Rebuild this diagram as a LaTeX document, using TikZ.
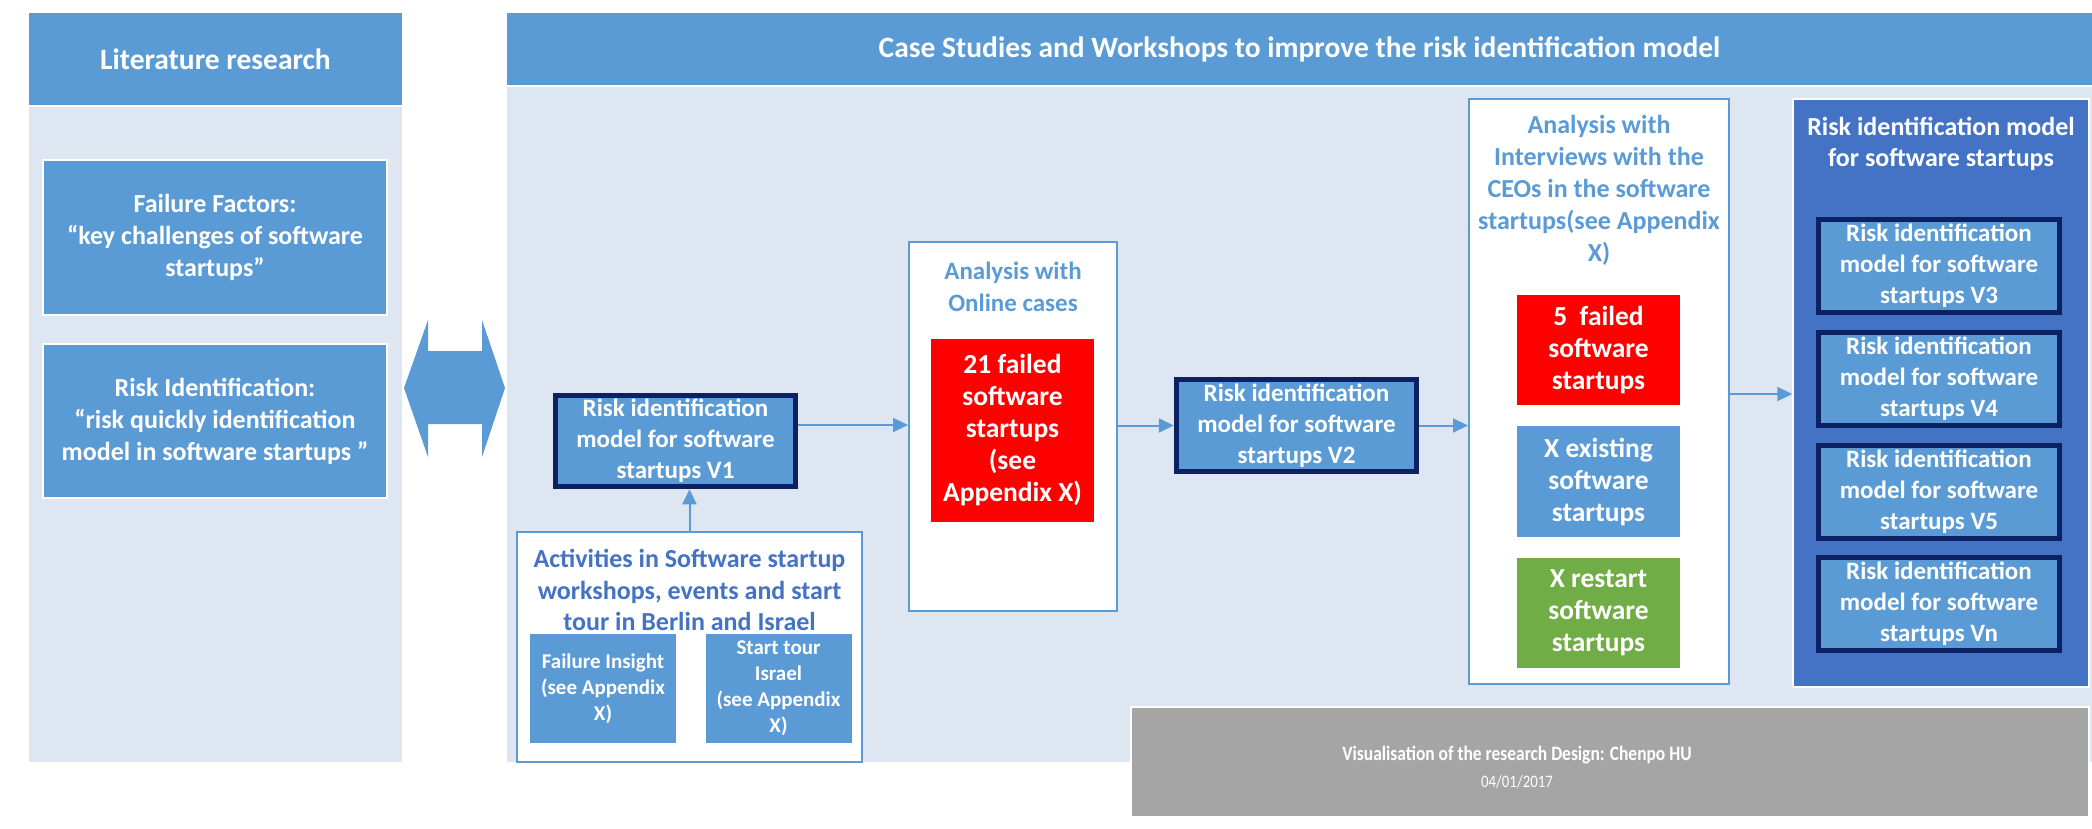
\documentclass[tikz,border=0pt]{standalone}
\usepackage{fontspec}
\setmainfont{Carlito}
\newfontfamily\condfont{Carlito}[FakeStretch=0.85]
\usetikzlibrary{arrows.meta,calc}
\definecolor{cblue}{HTML}{5B9BD5}
\definecolor{clight}{HTML}{DEE6F2}
\definecolor{cnavy}{HTML}{0B2161}
\definecolor{cdark}{HTML}{4472C4}
\definecolor{cred}{HTML}{FF0000}
\definecolor{cgreen}{HTML}{70AD47}
\definecolor{cgray}{HTML}{A5A5A5}
\tikzset{
  hdr/.style={fill=cblue, text=white, font=\fontsize{29.5}{35}\selectfont\bfseries, inner sep=0pt},
  panel/.style={fill=clight, inner sep=0pt},
  lbox/.style={fill=cblue, draw=white, line width=2pt, text=white, font=\fontsize{26}{32}\selectfont\bfseries, align=center, inner sep=0pt},
  vbox/.style={fill=cblue, draw=cnavy, line width=5.5pt, text=white, font=\fontsize{25}{31}\selectfont\bfseries, align=center, inner sep=0pt},
  wbox/.style={fill=white, draw=cblue, line width=2pt, inner sep=0pt},
  cbox/.style={text=white, font=\fontsize{27.5}{32}\selectfont\bfseries, align=center, inner sep=0pt},
  sbox/.style={fill=cblue, text=white, font=\fontsize{21}{26}\selectfont\bfseries, align=center, inner sep=0pt},
  ttl/.style={font=\fontsize{25}{32}\selectfont\bfseries, align=center, inner sep=0pt},
  arr/.style={draw=cblue, line width=2pt, -{Triangle[length=15pt,width=14pt]}},
}
\begin{document}
\begin{tikzpicture}[x=1pt,y=-1pt]
\useasboundingbox (0,0) rectangle (2092,828);
% left column
\node[hdr, minimum width=373pt, minimum height=92pt] (lhead) at (215.5,59) {Literature research};
\node[panel, minimum width=373pt, minimum height=655pt] (lpanel) at (215.5,434.5) {};
\node[lbox, minimum width=344pt, minimum height=155pt] (ff) at (215,237.5)
  {Failure Factors:\\“key challenges of software\\startups”};
\node[lbox, minimum width=344pt, minimum height=154pt] (ri) at (215,421)
  {Risk Identification:\\“risk quickly identification\\model in software startups ”};
% double arrow
\fill[cblue] (404,388) -- (428,320) -- (428,351) -- (482,351) -- (482,320) -- (505,388)
  -- (482,457) -- (482,424) -- (428,424) -- (428,457) -- cycle;
% right column
\node[hdr, minimum width=1585pt, minimum height=72pt] (rhead) at (1299.5,49)
  {Case Studies and Workshops to improve the risk identification model};
\node[panel, minimum width=1585pt, minimum height=675pt] (rpanel) at (1299.5,424.5) {};
% V1 and activities
\node[vbox, minimum width=240pt, minimum height=91pt] (v1) at (675.5,441)
  {Risk identification\\model for software\\startups V1};
\node[wbox, minimum width=345pt, minimum height=230pt] (act) at (689.5,647) {};
\node[ttl, text=cdark, font=\fontsize{26}{31.5}\selectfont\bfseries] (acttitle) at (689.5,590)
  {Activities in Software startup\\workshops, events and start\\tour in Berlin and Israel};
\node[sbox, minimum width=146pt, minimum height=109pt] (fi) at (603,688.5)
  {Failure Insight\\(see Appendix\\X)};
\node[sbox, minimum width=146pt, minimum height=109pt] (st) at (778.5,688.5)
  {Start tour\\Israel\\(see Appendix\\X)};
% online cases
\node[wbox, minimum width=208pt, minimum height=369pt] (online) at (1013,426.5) {};
\node[ttl, text=cblue] (onlinetitle) at (1013,287) {Analysis with\\Online cases};
\node[cbox, fill=cred, minimum width=163pt, minimum height=183pt] (red21) at (1012.5,430.5)
  {21 failed\\software\\startups\\(see\\Appendix X)};
% V2
\node[vbox, minimum width=240pt, minimum height=92pt] (v2) at (1296.5,425.5)
  {Risk identification\\model for software\\startups V2};
% CEO interviews
\node[wbox, minimum width=260pt, minimum height=585pt] (ceo) at (1599,391.5) {};
\node[ttl, text=cblue, font=\fontsize{26}{32}\selectfont\bfseries] (ceotitle) at (1599,190)
  {Analysis with\\Interviews with the\\CEOs in the software\\startups(see Appendix\\X)};
\node[cbox, fill=cred, minimum width=163pt, minimum height=110pt] (red5) at (1598.5,350)
  {5\ \ failed\\software\\startups};
\node[cbox, fill=cblue, minimum width=163pt, minimum height=111pt] (exist) at (1598.5,481.5)
  {X existing\\software\\startups};
\node[cbox, fill=cgreen, minimum width=163pt, minimum height=110pt] (restart) at (1598.5,613)
  {X restart\\software\\startups};
% dark panel
\node[fill=cdark, draw=white, line width=1.5pt, inner sep=0pt, minimum width=296pt, minimum height=588pt] (dpanel) at (1941,393) {};
\node[ttl, text=white, font=\fontsize{26}{31}\selectfont\bfseries] (dptitle) at (1941,144) {Risk identification model\\for software startups};
\node[vbox, minimum width=241pt, minimum height=93pt] (v3) at (1939,266) {Risk identification\\model for software\\startups V3};
\node[vbox, minimum width=241pt, minimum height=93pt] (v4) at (1939,379) {Risk identification\\model for software\\startups V4};
\node[vbox, minimum width=241pt, minimum height=93pt] (v5) at (1939,492) {Risk identification\\model for software\\startups V5};
\node[vbox, minimum width=241pt, minimum height=93pt] (vn) at (1939,604) {Risk identification\\model for software\\startups Vn};
% gray footer
\node[fill=cgray, draw=white, line width=2pt, inner sep=0pt, minimum width=958pt, minimum height=110pt] (gray) at (1610,762) {};
\node[text=white, font=\condfont\fontsize{20.5}{24}\selectfont\bfseries, inner sep=0pt] (graytitle) at (1517,755)
  {Visualisation of the research Design: Chenpo HU};
\node[text=white, font=\condfont\fontsize{17.5}{20}\selectfont, inner sep=0pt] (graydate) at (1517,782) {04/01/2017};
% connectors
\draw[arr] (act.north) -- (act.north |- v1.south);
\draw[arr] (v1.east |- 0,425) -- (online.west |- 0,425);
\draw[arr] (online.east |- v2.west) -- (v2.west);
\draw[arr] (v2.east) -- (ceo.west |- v2.east);
\draw[arr] (ceo.east |- 0,394) -- (dpanel.west |- 0,394);
\end{tikzpicture}
\end{document}
